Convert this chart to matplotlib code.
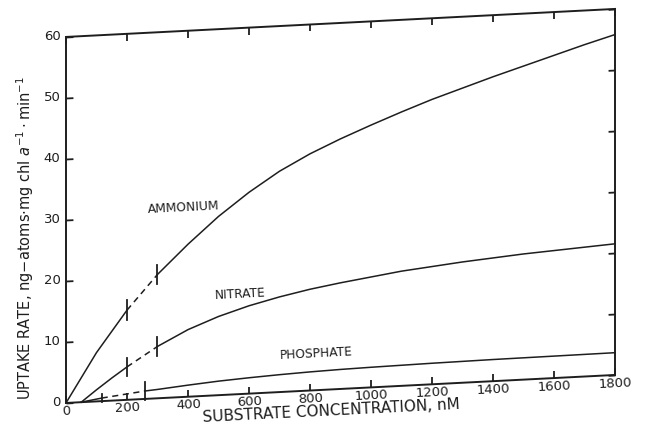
import math

import matplotlib
matplotlib.use('Agg')
import matplotlib.pyplot as plt
from matplotlib.transforms import Affine2D
import mpl_toolkits.axisartist.floating_axes as floating_axes
from mpl_toolkits.axisartist.grid_finder import DictFormatter, FixedLocator


# Values (substrate in nM, rate in ng-at/mg chl a/min)
conc = [300, 400, 500, 600, 700, 800, 900, 1000, 1100, 1200,
        1300, 1400, 1500, 1600, 1700, 1800]

amm_low_x = [0, 100, 200]
amm_low_y = [0, 8.0, 14.7]
amm_gap_x = [200, 300]
amm_gap_y = [14.7, 20.3]
amm_high_y = [20.3, 25.0, 29.3, 33.0, 36.2, 38.8, 41.0, 43.0, 44.9, 46.7,
              48.3, 49.9, 51.4, 52.9, 54.4, 55.8]

nit_low_x = [50, 100, 150, 200]
nit_low_y = [0, 1.9, 3.7, 5.4]
nit_gap_x = [200, 300]
nit_gap_y = [5.4, 8.5]
nit_high_y = [8.5, 11.0, 12.9, 14.4, 15.6, 16.6, 17.4, 18.1, 18.8, 19.3,
              19.8, 20.2, 20.6, 20.9, 21.2, 21.5]

pho_low_x = [50, 117]
pho_low_y = [0, 0.5]
pho_gap_x = [117, 259]
pho_gap_y = [0.5, 1.3]
pho_high_x = [259, 300, 400, 500, 600, 700, 800, 900, 1000, 1200, 1400, 1600, 1800]
pho_high_y = [1.3, 1.45, 1.9, 2.3, 2.6, 2.85, 3.05, 3.2, 3.3, 3.45, 3.55, 3.6, 3.65]

xticks = [0, 200, 400, 600, 800, 1000, 1200, 1400, 1600, 1800]
yticks = [0, 10, 20, 30, 40, 50, 60]

ink = '#1e1e1e'

fig = plt.figure(figsize=(6.48, 4.28), dpi=100)

# the scanned page is skewed: right side sits ~28 px higher than the left
skew = math.atan(28 / 549)
tr = Affine2D().scale(549 / 1800, 366 / 60).skew(0, skew)
helper = floating_axes.GridHelperCurveLinear(
    tr, extremes=(0, 1800, 0, 60),
    grid_locator1=FixedLocator(xticks),
    grid_locator2=FixedLocator(yticks),
    tick_formatter1=DictFormatter({v: str(v) for v in xticks}),
    tick_formatter2=DictFormatter({v: str(v) for v in yticks}))

ax = fig.add_axes([60.5 / 648, 21.1 / 428, 560 / 648, 401.9 / 428],
                  axes_class=floating_axes.FloatingAxes, grid_helper=helper)

for side in ['left', 'right', 'top', 'bottom']:
    a = ax.axis[side]
    a.line.set_linewidth(1.4)
    a.line.set_color(ink)
    a.major_ticks.set_ticksize(5)
    a.major_ticks.set_tick_out(False)
    a.major_ticks.set_markeredgecolor(ink)
    a.major_ticks.set_markeredgewidth(1.3)
    a.major_ticklabels.set_fontsize(9.5)
    a.major_ticklabels.set_color(ink)

ax.axis['left'].major_ticklabels.set_pad(4)
ax.axis['bottom'].major_ticklabels.set_pad(2)

aux = ax.get_aux_axes(tr)

lw = 1.1
dash = (0, (4, 3))
aux.plot(amm_low_x, amm_low_y, color=ink, lw=lw)
aux.plot(amm_gap_x, amm_gap_y, color=ink, lw=lw, ls=dash)
aux.plot(conc, amm_high_y, color=ink, lw=lw)
aux.plot(nit_low_x, nit_low_y, color=ink, lw=lw)
aux.plot(nit_gap_x, nit_gap_y, color=ink, lw=lw, ls=dash)
aux.plot(conc, nit_high_y, color=ink, lw=lw)
aux.plot(pho_low_x, pho_low_y, color=ink, lw=lw)
aux.plot(pho_gap_x, pho_gap_y, color=ink, lw=lw, ls=dash)
aux.plot(pho_high_x, pho_high_y, color=ink, lw=lw)

# short bars marking the ends of the dashed stretches
for xs, ys, h in [(amm_gap_x, amm_gap_y, 1.6), (nit_gap_x, nit_gap_y, 1.5),
                  ([pho_gap_x[0]], [pho_gap_y[0]], 0.7),
                  ([pho_gap_x[1]], [pho_gap_y[1]], 1.5)]:
    for x, y in zip(xs, ys):
        aux.plot([x, x], [y - h, y + h], color=ink, lw=1.3)

rot = math.degrees(skew)
for label, x, y in [('AMMONIUM', 384, 31.1), ('NITRATE', 570, 16.3),
                    ('PHOSPHATE', 820, 6.0)]:
    aux.text(x, y, label, fontsize=8.8, color=ink, rotation=rot,
             ha='center', va='center', rotation_mode='anchor')

aux.text(870, -3.6, 'SUBSTRATE CONCENTRATION, nM', fontsize=11, color=ink,
         rotation=rot, ha='center', va='center', rotation_mode='anchor')

fig.text(25 / 648, 1 - 238 / 428,
         r'UPTAKE RATE, ng$-$atoms$\cdot$mg chl $\mathit{a}^{-1}\cdot$min$^{-1}$',
         rotation=90, ha='center', va='center', fontsize=10.5, color=ink)

fig.savefig('out.png', dpi=100)
